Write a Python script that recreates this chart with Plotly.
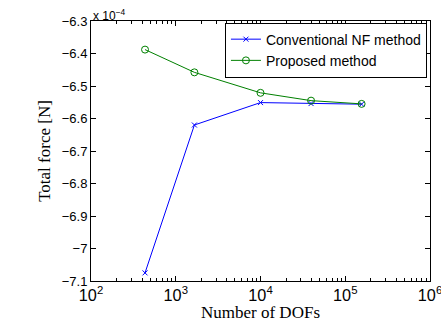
import plotly.graph_objects as go

dofs = [434, 1660, 10000, 39500, 156000]
conventional = [-7.075, -6.62, -6.551, -6.554, -6.556]
proposed = [-6.388, -6.458, -6.521, -6.545, -6.555]
ytick_vals = [-6.3, -6.4, -6.5, -6.6, -6.7, -6.8, -6.9, -7.0, -7.1]
ytick_text = ["\u22126.3", "\u22126.4", "\u22126.5", "\u22126.6", "\u22126.7",
              "\u22126.8", "\u22126.9", "\u22127", "\u22127.1"]

fig = go.Figure()
fig.add_trace(go.Scatter(x=dofs, y=conventional, mode="lines+markers",
                         name="Conventional NF method",
                         line=dict(color="#0000ff", width=1),
                         marker=dict(symbol="x-thin", size=5, color="#0000ff",
                                     line=dict(color="#0000ff", width=1))))
fig.add_trace(go.Scatter(x=dofs, y=proposed, mode="lines+markers",
                         name="Proposed method",
                         line=dict(color="#008000", width=1),
                         marker=dict(symbol="circle-open", size=7, color="#008000",
                                     line=dict(color="#008000", width=1))))

fig.update_layout(
    width=441, height=322,
    margin=dict(l=91, r=11, t=21, b=41, autoexpand=False),
    paper_bgcolor="white", plot_bgcolor="white",
    font=dict(family="Liberation Sans, Arial", size=13, color="black"),
    showlegend=True,
    legend=dict(x=0.991, y=0.994, xanchor="right", yanchor="top",
                bordercolor="black", borderwidth=1, bgcolor="white",
                font=dict(size=14), tracegroupgap=0,
                itemwidth=30),
)
fig.update_xaxes(type="log", range=[2, 6], dtick=1, exponentformat="power",
                 automargin=False, ticklabeloverflow="allow",
                 showgrid=False, zeroline=False,
                 showline=True, linecolor="black", linewidth=1, mirror="allticks",
                 ticks="inside", ticklen=5, tickcolor="black",
                 minor=dict(ticks="inside", ticklen=3, dtick="D1", tickcolor="black", showgrid=False),
                 tickfont=dict(size=13),
                 title=dict(text="Number of DOFs", font=dict(family="Liberation Serif, Times New Roman", size=17), standoff=2))
fig.update_yaxes(range=[-7.1, -6.3], tickvals=ytick_vals, ticktext=ytick_text,
                 automargin=False, ticklabeloverflow="allow",
                 showgrid=False, zeroline=False,
                 showline=True, linecolor="black", linewidth=1, mirror="allticks",
                 ticks="inside", ticklen=5, tickcolor="black",
                 tickfont=dict(size=13),
                 title=dict(text="Total force [N]", font=dict(family="Liberation Serif, Times New Roman", size=17), standoff=6))
fig.add_annotation(xref="paper", yref="paper", x=0, y=1, xanchor="left", yanchor="bottom",
                   text="x 10<sup>\u22124</sup>", showarrow=False, font=dict(size=12), yshift=-4)

fig.write_html("out.html", config={"displayModeBar": False},
               post_script="document.body.style.margin='0';document.body.style.overflow='hidden';")
